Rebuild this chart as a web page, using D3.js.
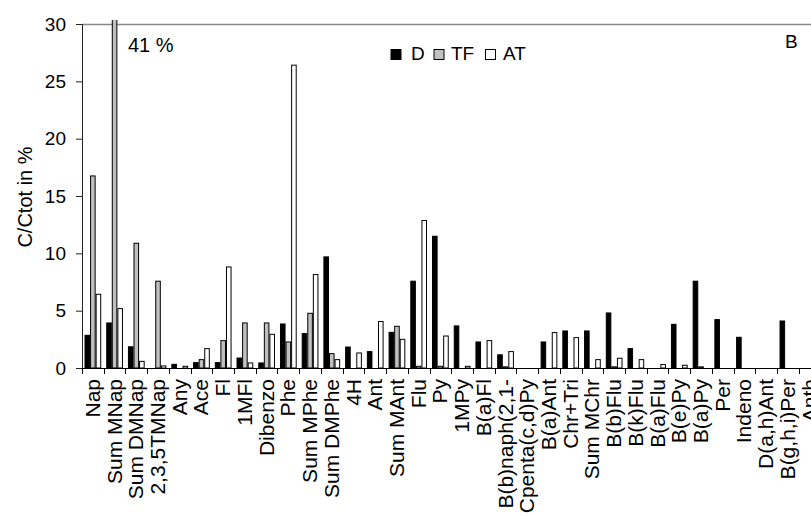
<!DOCTYPE html>
<html>
<head>
<meta charset="utf-8">
<script src="https://cdn.jsdelivr.net/npm/d3@7"></script>
<style>
  html, body { margin: 0; padding: 0; background: #fff; }
  svg { display: block; font-family: Arial, "Liberation Sans", sans-serif; }
</style>
</head>
<body>
<svg id="chart" width="811" height="516"></svg>
<script>
// PAH fractions of total carbon per compound
const categories = ["Nap","Sum MNap","Sum DMNap","2,3,5TMNap","Any","Ace","Fl","1MFl","Dibenzo","Phe",
  "Sum MPhe","Sum DMPhe","4H","Ant","Sum MAnt","Flu","Py","1MPy","B(a)Fl","B(b)naph(2,1-",
  "Cpenta(c,d)Py","B(a)Ant","Chr+Tri","Sum MChr","B(b)Flu","B(k)Flu","B(a)Flu","B(e)Py","B(a)Py","Per",
  "Indeno","D(a,h)Ant","B(g,h,i)Per","Anth"];
const seriesNames = ["D", "TF", "AT"];
const valuesD  = [2.85,3.93,1.85,0,0.32,0.47,0.47,0.87,0.44,3.84,3.0,9.69,1.83,1.43,3.11,7.57,11.49,3.67,2.27,1.15,0,2.27,3.23,3.23,4.8,1.69,0,3.81,7.57,4.22,2.68,0,4.1,0];
const valuesTF = [16.75,41,10.88,7.57,0,0.73,2.39,3.93,3.93,2.27,4.77,1.25,0,0,3.64,0.15,0.15,0,0,0.1,0,0,0,0,0.1,0,0,0,0.1,0,0,0,0,0];
const valuesAT = [6.43,5.18,0.58,0.18,0.15,1.69,8.81,0.44,2.94,26.41,8.15,0.73,1.31,4.05,2.5,12.86,2.79,0.15,2.39,1.43,0,3.09,2.65,0.73,0.85,0.73,0.3,0.24,0,0,0,0,0,0];
const yTicks = [0, 5, 10, 15, 20, 25, 30];
const fills = {D: "#000000", TF: "#c0c0c0", AT: "#ffffff"};

const svg = d3.select("#chart");
const plotLeft = 82, plotTop = 24, plotBottom = 368, bandW = 21.72;
const plotRight = plotLeft + categories.length * bandW;

const x = d3.scaleBand().domain(categories).range([plotLeft, plotRight]).paddingInner(0).paddingOuter(0);
const xs = d3.scaleBand().domain(seriesNames).range([x.bandwidth() * 0.115, x.bandwidth() * 0.885]);
const y = d3.scaleLinear().domain([0, 30]).range([plotBottom, plotTop]);

const rows = categories.map((c, i) => ({cat: c, D: valuesD[i], TF: valuesTF[i], AT: valuesAT[i]}));

// bars may run a little past the top frame, then get cut
svg.append("defs").append("clipPath").attr("id", "plotclip")
  .append("rect").attr("x", plotLeft).attr("y", 20).attr("width", plotRight - plotLeft).attr("height", plotBottom - 20);

// top frame line
svg.append("line").attr("x1", plotLeft).attr("x2", plotRight).attr("y1", plotTop + 0.5).attr("y2", plotTop + 0.5)
  .attr("stroke", "#888").attr("stroke-width", 1.5);

const barLayer = svg.append("g").attr("clip-path", "url(#plotclip)");
const groups = barLayer.selectAll("g.cat").data(rows).join("g")
  .attr("class", "cat").attr("transform", d => `translate(${x(d.cat)},0)`);
groups.selectAll("rect")
  .data(d => seriesNames.map(s => ({s, v: d[s]})).filter(e => e.v > 0))
  .join("rect")
  .attr("x", e => xs(e.s) + 0.5)
  .attr("width", xs.bandwidth() - 1)
  .attr("y", e => y(e.v))
  .attr("height", e => plotBottom - y(e.v))
  .attr("fill", e => fills[e.s])
  .attr("stroke", "#000").attr("stroke-width", 1);

// y axis
const yAxis = d3.axisLeft(y).tickValues(yTicks).tickSize(6).tickPadding(10).tickFormat(d3.format("d"));
const gy = svg.append("g").attr("transform", `translate(${plotLeft},0)`).call(yAxis);
gy.select(".domain").attr("stroke", "#222").attr("d", `M0.5,${plotTop}V${plotBottom}`);
gy.selectAll(".tick line").attr("stroke", "#222");
gy.selectAll(".tick text").attr("font-size", 19).attr("font-family", "Arial, 'Liberation Sans', sans-serif").attr("fill", "#000");

// x axis: ticks at category boundaries
svg.append("line").attr("x1", plotLeft).attr("x2", plotRight).attr("y1", plotBottom + 0.5).attr("y2", plotBottom + 0.5)
  .attr("stroke", "#000").attr("stroke-width", 1);
const boundaries = categories.map(c => x(c)).concat([plotRight]);
svg.append("g").selectAll("line").data(boundaries).join("line")
  .attr("x1", d => Math.round(d) + 0.5).attr("x2", d => Math.round(d) + 0.5)
  .attr("y1", plotBottom).attr("y2", plotBottom + 6)
  .attr("stroke", "#000");
svg.append("g").selectAll("text").data(categories).join("text")
  .attr("transform", c => `translate(${x(c) + x.bandwidth() / 2 + 7},379) rotate(-90)`)
  .attr("text-anchor", "end")
  .attr("font-size", 21)
  .text(c => c);

// y axis title
svg.append("text")
  .attr("transform", "translate(32,197) rotate(-90)")
  .attr("text-anchor", "middle")
  .attr("font-size", 20)
  .text("C/Ctot in %");

// value note for the off-scale bar
svg.append("text").attr("x", 128).attr("y", 52).attr("font-size", 20).text("41 %");
// panel letter
svg.append("text").attr("x", 785).attr("y", 48).attr("font-size", 19).text("B");

// legend
const legend = svg.append("g");
const legendItems = [
  {s: "D", bx: 391, tx: 411},
  {s: "TF", bx: 434, tx: 451},
  {s: "AT", bx: 485.5, tx: 503}
];
legend.selectAll("rect").data(legendItems).join("rect")
  .attr("x", d => d.bx).attr("y", 49.5).attr("width", 10).attr("height", 10)
  .attr("fill", d => fills[d.s]).attr("stroke", "#000");
legend.selectAll("text").data(legendItems).join("text")
  .attr("x", d => d.tx).attr("y", 59.5).attr("font-size", 19).text(d => d.s);
</script>
</body>
</html>
